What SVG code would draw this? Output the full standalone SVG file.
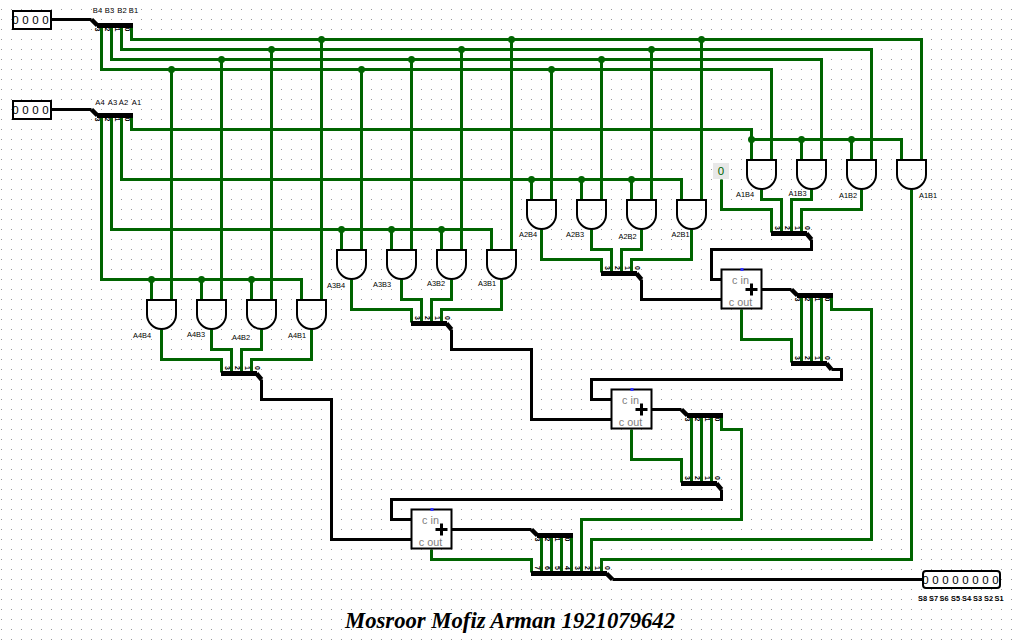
<svg xmlns="http://www.w3.org/2000/svg" width="1015" height="640" viewBox="0 0 1015 640">
<style>
.g{fill:none;stroke:#006400;stroke-width:3}
.k{fill:none;stroke:#000;stroke-width:3}
.dg{fill:none;stroke:#000;stroke-width:4.5}
.b{fill:#000}
.j{fill:#006400}
.gate{fill:none;stroke:#000;stroke-width:2}
.box{fill:#fff;stroke:#000;stroke-width:2}
text{font-family:"Liberation Sans",Arial,sans-serif;fill:#000}
.lb{font-size:7.4px;text-anchor:middle}
.pl{font-size:7.6px;text-anchor:middle}
.sl{font-size:7.4px;text-anchor:middle;font-weight:bold}
.d{font-size:11.5px;text-anchor:middle}
.sp{font-size:7px;text-anchor:middle;font-weight:bold}
.ad{font-size:10.8px;text-anchor:middle;fill:#808080}
</style>
<defs>
<pattern id="grid" width="10" height="10" patternUnits="userSpaceOnUse"><rect x="1" y="9" width="1" height="1" fill="#999"/></pattern>
<path id="and" d="M-14.5 0H14.5V14.5A14.5 14.5 0 0 1-14.5 14.5Z"/>
<g id="adder">
<rect class="box" x="0" y="0" width="40" height="39"/>
<text class="ad" x="19" y="14">c in</text>
<text class="ad" x="19" y="36.5">c out</text>
<path d="M24 20H36M30 14V26" fill="none" stroke="#000" stroke-width="3"/>
<rect x="19" y="-1.5" width="3" height="3" fill="#3333ff"/>
</g>
</defs>
<rect width="1015" height="640" fill="#fff"/>
<rect width="1015" height="640" fill="url(#grid)"/>

<g id="connectors">
<g transform="translate(.5 .5)">
<path class="g" d="M101 26V69H771V159M111 26V59H821V159M121 26V49H871V159M131 26V39H921V159"/>
<path class="g" d="M171 69V299M221 59V299M271 49V299M321 39V299M361 69V249M411 59V249M461 49V249M511 39V249M551 69V199M601 59V199M651 49V199M701 39V199"/>
<path class="g" d="M101 116V279H301V299M111 116V229H491V249M121 116V179H681V199M131 116V129H751V159M751 139H901V159"/>
<path class="g" d="M151 279V299M201 279V299M251 279V299M341 229V249M391 229V249M441 229V249M531 179V199M581 179V199M631 179V199M801 139V159M851 139V159"/>
<path class="g" d="M161 329V359H221V372M211 329V349H231V372M261 329V349H241V372M311 329V359H251V372"/>
<path class="g" d="M351 279V309H411V322M401 279V299H421V322M451 279V299H431V322M501 279V309H441V322"/>
<path class="g" d="M541 229V259H601V272M591 229V249H611V272M641 229V249H621V272M691 229V259H631V272"/>
<path class="g" d="M761 189V199H781V232M811 189V199H791V232M861 189V209H801V232M721 179V209H771V232"/>
<path class="g" d="M801 296V362M811 296V362M821 296V362M831 296V309H871V539H591V572M741 309V339H791V362"/>
<path class="g" d="M691 416V482M701 416V482M711 416V482M721 416V429H741V519H581V572M631 429V459H681V482"/>
<path class="g" d="M541 536V572M551 536V572M561 536V572M571 536V572M431 549V559H531V572"/>
<path class="g" d="M911 189V559H601V572"/>
<path class="k" d="M51 19H91M51 109H91M761 289H791M651 409H681M451 529H531"/>
<path class="k" d="M261 379V399H331V539H411M451 329V349H531V419H611M641 279V299H721M811 239V249H711V279H721"/>
<path class="k" d="M831 369H841V379H591V399H611M721 489V499H391V519H411M612 579H922"/>
<path class="dg" d="M91 19L97 25M91 109L97 115M791 289L797 295M681 409L687 415M531 529L537 535M256 373L261 379M446 323L451 329M636 273L641 279M806 233L811 239M826 363L831 369M716 483L721 489M606 573L612 579"/>
</g>
<g class="b">
<rect x="97" y="23" width="36" height="5"/><rect x="97" y="113" width="36" height="5"/>
<rect x="221" y="371" width="36" height="5"/><rect x="411" y="321" width="36" height="5"/>
<rect x="601" y="271" width="36" height="5"/><rect x="771" y="231" width="36" height="5"/>
<rect x="797" y="293" width="36" height="5"/><rect x="791" y="361" width="36" height="5"/>
<rect x="687" y="413" width="36" height="5"/><rect x="681" y="481" width="36" height="5"/>
<rect x="537" y="533" width="36" height="5"/><rect x="531" y="571" width="76" height="5"/>
</g>
<g class="j">
<circle cx="321.5" cy="39.5" r="3.5"/><circle cx="511.5" cy="39.5" r="3.5"/><circle cx="701.5" cy="39.5" r="3.5"/>
<circle cx="271.5" cy="49.5" r="3.5"/><circle cx="461.5" cy="49.5" r="3.5"/><circle cx="651.5" cy="49.5" r="3.5"/>
<circle cx="221.5" cy="59.5" r="3.5"/><circle cx="411.5" cy="59.5" r="3.5"/><circle cx="601.5" cy="59.5" r="3.5"/>
<circle cx="171.5" cy="69.5" r="3.5"/><circle cx="361.5" cy="69.5" r="3.5"/><circle cx="551.5" cy="69.5" r="3.5"/>
<circle cx="151.5" cy="279.5" r="3.5"/><circle cx="201.5" cy="279.5" r="3.5"/><circle cx="251.5" cy="279.5" r="3.5"/>
<circle cx="341.5" cy="229.5" r="3.5"/><circle cx="391.5" cy="229.5" r="3.5"/><circle cx="441.5" cy="229.5" r="3.5"/>
<circle cx="531.5" cy="179.5" r="3.5"/><circle cx="581.5" cy="179.5" r="3.5"/><circle cx="631.5" cy="179.5" r="3.5"/>
<circle cx="751.5" cy="139.5" r="3.5"/><circle cx="801.5" cy="139.5" r="3.5"/><circle cx="851.5" cy="139.5" r="3.5"/>
</g>
</g>

<g id="pin-B"><rect class="box" x="13" y="11" width="38" height="18"/>
<text class="d" x="15.5" y="23.5">0</text><text class="d" x="25.5" y="23.5">0</text><text class="d" x="35.5" y="23.5">0</text><text class="d" x="45.5" y="23.5">0</text></g>
<g id="pin-A"><rect class="box" x="13" y="101" width="38" height="18"/>
<text class="d" x="15.5" y="113.5">0</text><text class="d" x="25.5" y="113.5">0</text><text class="d" x="35.5" y="113.5">0</text><text class="d" x="45.5" y="113.5">0</text></g>
<g id="labels-B"><text class="pl" x="97.5" y="13">B4</text><text class="pl" x="109.5" y="13">B3</text><text class="pl" x="122" y="13">B2</text><text class="pl" x="133.5" y="13">B1</text></g>
<g id="labels-A"><text class="pl" x="100" y="105">A4</text><text class="pl" x="112.5" y="105">A3</text><text class="pl" x="123.5" y="105">A2</text><text class="pl" x="136.5" y="105">A1</text></g>

<g id="split-b-in"><text class="sp" transform="translate(95 29.5) rotate(90)">3</text><text class="sp" transform="translate(105 29.5) rotate(90)">2</text><text class="sp" transform="translate(115 29.5) rotate(90)">1</text><text class="sp" transform="translate(125 29.5) rotate(90)">0</text></g>
<g id="split-a-in"><text class="sp" transform="translate(95 119.5) rotate(90)">3</text><text class="sp" transform="translate(105 119.5) rotate(90)">2</text><text class="sp" transform="translate(115 119.5) rotate(90)">1</text><text class="sp" transform="translate(125 119.5) rotate(90)">0</text></g>
<g id="split-a4"><text class="sp" transform="translate(224.5 368) rotate(90)">3</text><text class="sp" transform="translate(234.5 368) rotate(90)">2</text><text class="sp" transform="translate(244.5 368) rotate(90)">1</text><text class="sp" transform="translate(254.5 368) rotate(90)">0</text></g>
<g id="split-a3"><text class="sp" transform="translate(414.5 318) rotate(90)">3</text><text class="sp" transform="translate(424.5 318) rotate(90)">2</text><text class="sp" transform="translate(434.5 318) rotate(90)">1</text><text class="sp" transform="translate(444.5 318) rotate(90)">0</text></g>
<g id="split-a2"><text class="sp" transform="translate(604.5 268) rotate(90)">3</text><text class="sp" transform="translate(614.5 268) rotate(90)">2</text><text class="sp" transform="translate(624.5 268) rotate(90)">1</text><text class="sp" transform="translate(634.5 268) rotate(90)">0</text></g>
<g id="split-a1"><text class="sp" transform="translate(774.5 228) rotate(90)">3</text><text class="sp" transform="translate(784.5 228) rotate(90)">2</text><text class="sp" transform="translate(794.5 228) rotate(90)">1</text><text class="sp" transform="translate(804.5 228) rotate(90)">0</text></g>
<g id="split-s1"><text class="sp" transform="translate(794.5 299.5) rotate(90)">3</text><text class="sp" transform="translate(804.5 299.5) rotate(90)">2</text><text class="sp" transform="translate(814.5 299.5) rotate(90)">1</text><text class="sp" transform="translate(824.5 299.5) rotate(90)">0</text></g>
<g id="split-c1"><text class="sp" transform="translate(794.5 358) rotate(90)">3</text><text class="sp" transform="translate(804.5 358) rotate(90)">2</text><text class="sp" transform="translate(814.5 358) rotate(90)">1</text><text class="sp" transform="translate(824.5 358) rotate(90)">0</text></g>
<g id="split-s2"><text class="sp" transform="translate(684.5 419.5) rotate(90)">3</text><text class="sp" transform="translate(694.5 419.5) rotate(90)">2</text><text class="sp" transform="translate(704.5 419.5) rotate(90)">1</text><text class="sp" transform="translate(714.5 419.5) rotate(90)">0</text></g>
<g id="split-c2"><text class="sp" transform="translate(684.5 478) rotate(90)">3</text><text class="sp" transform="translate(694.5 478) rotate(90)">2</text><text class="sp" transform="translate(704.5 478) rotate(90)">1</text><text class="sp" transform="translate(714.5 478) rotate(90)">0</text></g>
<g id="split-s3"><text class="sp" transform="translate(534.5 539.5) rotate(90)">3</text><text class="sp" transform="translate(544.5 539.5) rotate(90)">2</text><text class="sp" transform="translate(554.5 539.5) rotate(90)">1</text><text class="sp" transform="translate(564.5 539.5) rotate(90)">0</text></g>
<g id="split-out"><text class="sp" transform="translate(534.5 568) rotate(90)">7</text><text class="sp" transform="translate(544.5 568) rotate(90)">6</text><text class="sp" transform="translate(554.5 568) rotate(90)">5</text><text class="sp" transform="translate(564.5 568) rotate(90)">4</text><text class="sp" transform="translate(574.5 568) rotate(90)">3</text><text class="sp" transform="translate(584.5 568) rotate(90)">2</text><text class="sp" transform="translate(594.5 568) rotate(90)">1</text><text class="sp" transform="translate(604.5 568) rotate(90)">0</text></g>

<g id="A4B4"><use href="#and" x="161.5" y="300" class="gate"/><text class="lb" x="142" y="338">A4B4</text></g>
<g id="A4B3"><use href="#and" x="211.5" y="300" class="gate"/><text class="lb" x="196" y="336.5">A4B3</text></g>
<g id="A4B2"><use href="#and" x="261.5" y="300" class="gate"/><text class="lb" x="241" y="339.5">A4B2</text></g>
<g id="A4B1"><use href="#and" x="311.5" y="300" class="gate"/><text class="lb" x="297" y="338">A4B1</text></g>
<g id="A3B4"><use href="#and" x="351.5" y="250" class="gate"/><text class="lb" x="336" y="288">A3B4</text></g>
<g id="A3B3"><use href="#and" x="401.5" y="250" class="gate"/><text class="lb" x="382" y="286.5">A3B3</text></g>
<g id="A3B2"><use href="#and" x="451.5" y="250" class="gate"/><text class="lb" x="436" y="285.5">A3B2</text></g>
<g id="A3B1"><use href="#and" x="501.5" y="250" class="gate"/><text class="lb" x="487" y="285.5">A3B1</text></g>
<g id="A2B4"><use href="#and" x="541.5" y="200" class="gate"/><text class="lb" x="528" y="236.5">A2B4</text></g>
<g id="A2B3"><use href="#and" x="591.5" y="200" class="gate"/><text class="lb" x="575" y="236.5">A2B3</text></g>
<g id="A2B2"><use href="#and" x="641.5" y="200" class="gate"/><text class="lb" x="627.5" y="239">A2B2</text></g>
<g id="A2B1"><use href="#and" x="691.5" y="200" class="gate"/><text class="lb" x="680.5" y="236.5">A2B1</text></g>
<g id="A1B4"><use href="#and" x="761.5" y="160" class="gate"/><text class="lb" x="745" y="197">A1B4</text></g>
<g id="A1B3"><use href="#and" x="811.5" y="160" class="gate"/><text class="lb" x="797.5" y="195.5">A1B3</text></g>
<g id="A1B2"><use href="#and" x="861.5" y="160" class="gate"/><text class="lb" x="848" y="198">A1B2</text></g>
<g id="A1B1"><use href="#and" x="911.5" y="160" class="gate"/><text class="lb" x="928" y="198">A1B1</text></g>

<g id="const-0"><rect x="713" y="163" width="16" height="16" fill="#e8e8e8"/><text class="d" x="721" y="175" style="fill:#006400">0</text></g>
<g id="adder-1"><use href="#adder" x="721.5" y="269.5"/></g>
<g id="adder-2"><use href="#adder" x="611.5" y="389.5"/></g>
<g id="adder-3"><use href="#adder" x="411.5" y="509.5"/></g>

<g id="pin-out"><rect class="box" x="923" y="571" width="77" height="17" rx="3"/>
<text class="d" x="925.5" y="583.5">0</text><text class="d" x="935.5" y="583.5">0</text><text class="d" x="945.5" y="583.5">0</text><text class="d" x="955.5" y="583.5">0</text><text class="d" x="965.5" y="583.5">0</text><text class="d" x="975.5" y="583.5">0</text><text class="d" x="985.5" y="583.5">0</text><text class="d" x="995.5" y="583.5">0</text></g>
<g id="labels-S"><text class="sl" x="922.5" y="601">S8</text><text class="sl" x="933.5" y="601">S7</text><text class="sl" x="944" y="601">S6</text><text class="sl" x="955.5" y="601">S5</text><text class="sl" x="966.5" y="601">S4</text><text class="sl" x="977.5" y="601">S3</text><text class="sl" x="988.5" y="601">S2</text><text class="sl" x="999" y="601">S1</text></g>
<text id="title" x="510" y="628" text-anchor="middle" style="font-family:'Liberation Serif',serif;font-size:22.7px;font-weight:bold;font-style:italic">Mosroor Mofiz Arman 1921079642</text>
</svg>
